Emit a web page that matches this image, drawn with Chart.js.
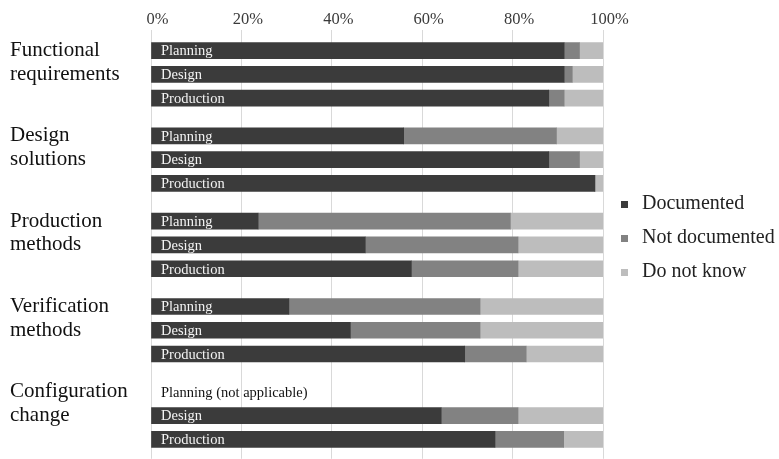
<!DOCTYPE html>
<html>
<head>
<meta charset="utf-8">
<script src="https://cdn.jsdelivr.net/npm/chart.js@4/dist/chart.umd.min.js"></script>
<style>
html,body{margin:0;padding:0;background:#fff;}
#wrap{width:779px;height:459px;}
</style>
</head>
<body>
<div id="wrap"><canvas id="c" width="779" height="459"></canvas></div>
<script>
// ---- data ----
const groupLabels = [
  ['Functional', 'requirements'],
  ['Design', 'solutions'],
  ['Production', 'methods'],
  ['Verification', 'methods'],
  ['Configuration', 'change']
];
const rowLabels = [
  'Planning', 'Design', 'Production',
  'Planning', 'Design', 'Production',
  'Planning', 'Design', 'Production',
  'Planning', 'Design', 'Production',
  'Planning (not applicable)', 'Design', 'Production'
];
const seriesNames = ['Documented', 'Not documented', 'Do not know'];
const documented    = [91.4, 91.4, 88.0, 55.9, 88.0, 98.2, 23.7, 47.4, 57.6, 30.5, 44.1, 69.4, null, 64.2, 76.1];
const notDocumented = [ 3.4,  1.8,  3.4, 33.8,  6.8,  0.0, 55.8, 33.8, 23.6, 42.3, 28.7, 13.6, null, 17.0, 15.2];
const doNotKnow     = [ 5.2,  6.8,  8.6, 10.3,  5.2,  1.8, 20.5, 18.8, 18.8, 27.2, 27.2, 17.0, null, 18.8,  8.7];
const xTickValues = [0, 20, 40, 60, 80, 100];
const xTickLabels = ['0%', '20%', '40%', '60%', '80%', '100%'];

// ---- layout / style ----
const FONT = "'Liberation Serif', 'Times New Roman', serif";
const colors = ['#3b3b3b', '#828282', '#bdbdbd'];
const ROWS_PER_GROUP = 3;
const GROUP_STEP = 3.59;
const rowPos = i => Math.floor(i / ROWS_PER_GROUP) * GROUP_STEP + (i % ROWS_PER_GROUP);

function toPoints(arr) {
  return arr.map((v, i) => ({x: v, y: rowPos(i)}));
}

function swatch(color) {
  const c = document.createElement('canvas');
  c.width = 7; c.height = 7;
  const g = c.getContext('2d');
  g.fillStyle = color;
  g.fillRect(0, 0, 7, 7);
  return c;
}

const rowLabelPlugin = {
  id: 'rowLabels',
  afterDatasetsDraw(chart) {
    const {ctx, chartArea, scales} = chart;
    ctx.save();
    ctx.font = "14.5px " + FONT;
    ctx.textAlign = 'left';
    ctx.textBaseline = 'middle';
    rowLabels.forEach((lab, i) => {
      const y = scales.y.getPixelForValue(rowPos(i));
      const hasBar = documented[i] !== null;
      ctx.fillStyle = hasBar ? '#f4f4f4' : '#111';
      ctx.fillText(lab, chartArea.left + 10, y + 1);
    });
    ctx.restore();
  }
};

const groupTickValues = [];
groupLabels.forEach((g, gi) => g.forEach((line, li) => groupTickValues.push(gi * GROUP_STEP + li)));

new Chart(document.getElementById('c'), {
  type: 'bar',
  data: {
    datasets: [
      {label: seriesNames[0], data: toPoints(documented), backgroundColor: colors[0]},
      {label: seriesNames[1], data: toPoints(notDocumented), backgroundColor: colors[1]},
      {label: seriesNames[2], data: toPoints(doNotKnow), backgroundColor: colors[2]}
    ]
  },
  options: {
    indexAxis: 'y',
    responsive: false,
    animation: false,
    barThickness: 16,
    layout: {padding: {top: 10, left: 10, right: 0, bottom: 0}},
    scales: {
      x: {
        type: 'linear',
        position: 'top',
        stacked: true,
        min: 0, max: 100,
        afterBuildTicks: s => { s.ticks = xTickValues.map(v => ({value: v})); },
        grid: {color: '#d9d9d9', drawTicks: false, lineWidth: 1},
        border: {display: false},
        ticks: {
          padding: 0,
          labelOffset: 6.5,
          color: '#3a3a3a',
          font: {family: FONT, size: 16.5},
          callback: (v) => xTickLabels[xTickValues.indexOf(v)]
        }
      },
      y: {
        type: 'linear',
        stacked: true,
        reverse: true,
        offset: false,
        grace: 0,
        min: -0.875,
        max: 17.18,
        afterBuildTicks: s => { s.ticks = groupTickValues.map(v => ({value: v})); },
        afterFit: s => { s.width = 141; },
        grid: {display: false, offset: false},
        border: {display: false},
        ticks: {
          autoSkip: false,
          crossAlign: 'far',
          padding: 0,
          color: '#111',
          font: {family: FONT, size: 21, lineHeight: 0.02},
          callback: (v, idx) => groupLabels[Math.floor(idx / 2)][idx % 2]
        }
      }
    },
    plugins: {
      tooltip: {enabled: false},
      legend: {
        position: 'right',
        align: 'center',
        maxWidth: 176,
        title: {display: true, text: '', font: {size: 1}, padding: {top: 3, bottom: 3}},
        labels: {
          usePointStyle: true,
          pointStyleWidth: 15,
          boxHeight: 7,
          padding: 14,
          color: '#222',
          font: {family: FONT, size: 20},
          generateLabels(chart) {
            const items = Chart.defaults.plugins.legend.labels.generateLabels(chart);
            items.forEach((it, i) => { it.pointStyle = swatch(colors[i]); });
            return items;
          }
        }
      }
    }
  },
  plugins: [rowLabelPlugin]
});
</script>
</body>
</html>
